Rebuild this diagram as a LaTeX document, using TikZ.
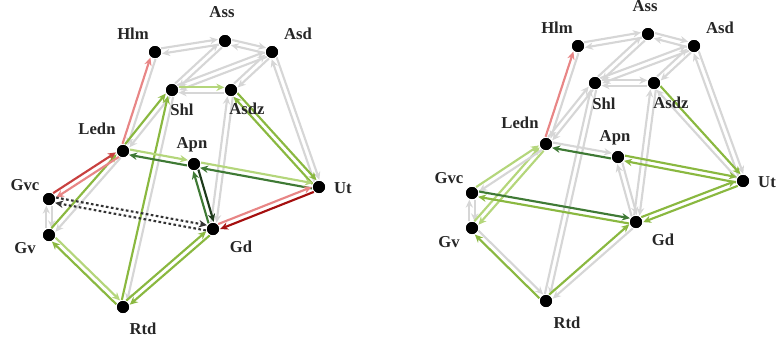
\documentclass[tikz,border=0pt]{standalone}
\usepackage{fontspec}
\setmainfont{Liberation Serif}
\usetikzlibrary{arrows.meta,calc}
\definecolor{gr}{HTML}{D6D6D6}
\definecolor{lred}{HTML}{E88686}
\definecolor{red}{HTML}{C8403F}
\definecolor{dred}{HTML}{A50F0F}
\definecolor{lgreen}{HTML}{B4D67B}
\definecolor{green}{HTML}{8AB840}
\definecolor{dgreen}{HTML}{3F7A35}
\definecolor{vdgreen}{HTML}{1E3B1C}
\definecolor{dk}{HTML}{333333}
\tikzset{
 dot/.style={circle,fill=black,inner sep=0pt,minimum size=9pt},
 lab/.style={font=\bfseries\fontsize{12.5}{14}\selectfont,inner sep=0pt,text=black!85},
 arr/.style={line width=1.6pt,-{Stealth[length=6pt,width=5.5pt]},shorten >=5pt,shorten <=5pt},
 dotline/.style={dk,dash pattern=on 2pt off 1.8pt}
}
\newcommand\pr[4]{%
 \draw[arr,#3] ($(#1)!2pt!90:(#2)$) -- ($(#2)!2pt!-90:(#1)$);
 \draw[arr,#4] ($(#2)!2pt!90:(#1)$) -- ($(#1)!2pt!-90:(#2)$);
}
\begin{document}
\begin{tikzpicture}[x=0.75pt,y=-0.75pt]
\useasboundingbox (0,0) rectangle (778,339);
% left graph nodes
\node[dot] (lHlm) at (155,52) {};
\node[dot] (lAss) at (225,41) {};
\node[dot] (lAsd) at (272,52) {};
\node[dot] (lShl) at (172,90) {};
\node[dot] (lAsdz) at (231,90) {};
\node[dot] (lLedn) at (123,151) {};
\node[dot] (lApn) at (194,164) {};
\node[dot] (lUt) at (319,187) {};
\node[dot] (lGvc) at (49,199) {};
\node[dot] (lGv) at (49,235) {};
\node[dot] (lGd) at (213,229) {};
\node[dot] (lRtd) at (123,307) {};
% right graph nodes
\node[dot] (rHlm) at (578,46) {};
\node[dot] (rAss) at (648,34) {};
\node[dot] (rAsd) at (694,46) {};
\node[dot] (rShl) at (595,83) {};
\node[dot] (rAsdz) at (654,83) {};
\node[dot] (rLedn) at (546,144) {};
\node[dot] (rApn) at (618,157) {};
\node[dot] (rUt) at (743,181) {};
\node[dot] (rGvc) at (472,193) {};
\node[dot] (rGv) at (472,228) {};
\node[dot] (rGd) at (636,222) {};
\node[dot] (rRtd) at (546,301) {};
% left edges
\pr{lHlm}{lAss}{gr}{gr}
\pr{lAss}{lAsd}{gr}{gr}
\pr{lAss}{lShl}{gr}{gr}
\pr{lAsd}{lShl}{gr}{gr}
\pr{lAsd}{lAsdz}{gr}{gr}
\pr{lAsd}{lUt}{gr}{gr}
\pr{lAsdz}{lGd}{gr}{gr}
\pr{lLedn}{lHlm}{lred}{gr}
\pr{lShl}{lAsdz}{lgreen}{gr}
\pr{lAsdz}{lUt}{green}{green}
\pr{lLedn}{lShl}{green}{gr}
\pr{lRtd}{lShl}{green}{gr}
\pr{lGv}{lGvc}{gr}{gr}
\pr{lGv}{lLedn}{green}{gr}
\pr{lGvc}{lLedn}{red}{lred}
\pr{lLedn}{lApn}{lgreen}{dgreen}
\pr{lApn}{lUt}{lgreen}{dgreen}
\pr{lApn}{lGd}{vdgreen}{dgreen}
\pr{lGd}{lUt}{lred}{dred}
\pr{lGvc}{lGd}{dotline}{dotline}
\pr{lRtd}{lGv}{green}{lgreen}
\pr{lRtd}{lGd}{green}{green}
% right edges
\pr{rHlm}{rAss}{gr}{gr}
\pr{rAss}{rAsd}{gr}{gr}
\pr{rAss}{rShl}{gr}{gr}
\pr{rAsd}{rShl}{gr}{gr}
\pr{rAsd}{rAsdz}{gr}{gr}
\pr{rAsd}{rUt}{gr}{gr}
\pr{rAsdz}{rGd}{gr}{gr}
\pr{rLedn}{rHlm}{lred}{gr}
\pr{rShl}{rAsdz}{gr}{gr}
\pr{rAsdz}{rUt}{green}{gr}
\pr{rLedn}{rShl}{gr}{gr}
\pr{rRtd}{rShl}{gr}{gr}
\pr{rGv}{rGvc}{gr}{gr}
\pr{rGv}{rLedn}{lgreen}{lgreen}
\pr{rGvc}{rLedn}{lgreen}{gr}
\pr{rLedn}{rApn}{gr}{dgreen}
\pr{rApn}{rUt}{green}{green}
\pr{rApn}{rGd}{gr}{gr}
\pr{rGd}{rUt}{green}{green}
\pr{rGvc}{rGd}{dgreen}{green}
\pr{rRtd}{rGv}{green}{gr}
\pr{rRtd}{rGd}{green}{gr}
% redraw dots on top
\foreach \n in {lHlm,lAss,lAsd,lShl,lAsdz,lLedn,lApn,lUt,lGvc,lGv,lGd,lRtd,rHlm,rAss,rAsd,rShl,rAsdz,rLedn,rApn,rUt,rGvc,rGv,rGd,rRtd}
  \fill (\n) circle (4.5pt);
% labels left
\node[lab] (tlHlm) at (133,34) {Hlm};
\node[lab] (tlAss) at (222,12) {Ass};
\node[lab] (tlAsd) at (298,34) {Asd};
\node[lab] (tlShl) at (182,110) {Shl};
\node[lab] (tlAsdz) at (247,109) {Asdz};
\node[lab] (tlLedn) at (97,129) {Ledn};
\node[lab] (tlApn) at (192,145) {Apn};
\node[lab] (tlUt) at (343,188) {Ut};
\node[lab] (tlGvc) at (25,185) {Gvc};
\node[lab] (tlGv) at (25,248) {Gv};
\node[lab] (tlGd) at (241,247) {Gd};
\node[lab] (tlRtd) at (143,329) {Rtd};
% labels right
\node[lab] (trHlm) at (557,28) {Hlm};
\node[lab] (trAss) at (645,6) {Ass};
\node[lab] (trAsd) at (720,28) {Asd};
\node[lab] (trShl) at (604,104) {Shl};
\node[lab] (trAsdz) at (671,103) {Asdz};
\node[lab] (trLedn) at (520,123) {Ledn};
\node[lab] (trApn) at (615,138) {Apn};
\node[lab] (trUt) at (767,182) {Ut};
\node[lab] (trGvc) at (449,178) {Gvc};
\node[lab] (trGv) at (449,242) {Gv};
\node[lab] (trGd) at (663,240) {Gd};
\node[lab] (trRtd) at (567,323) {Rtd};
\end{tikzpicture}
\end{document}
